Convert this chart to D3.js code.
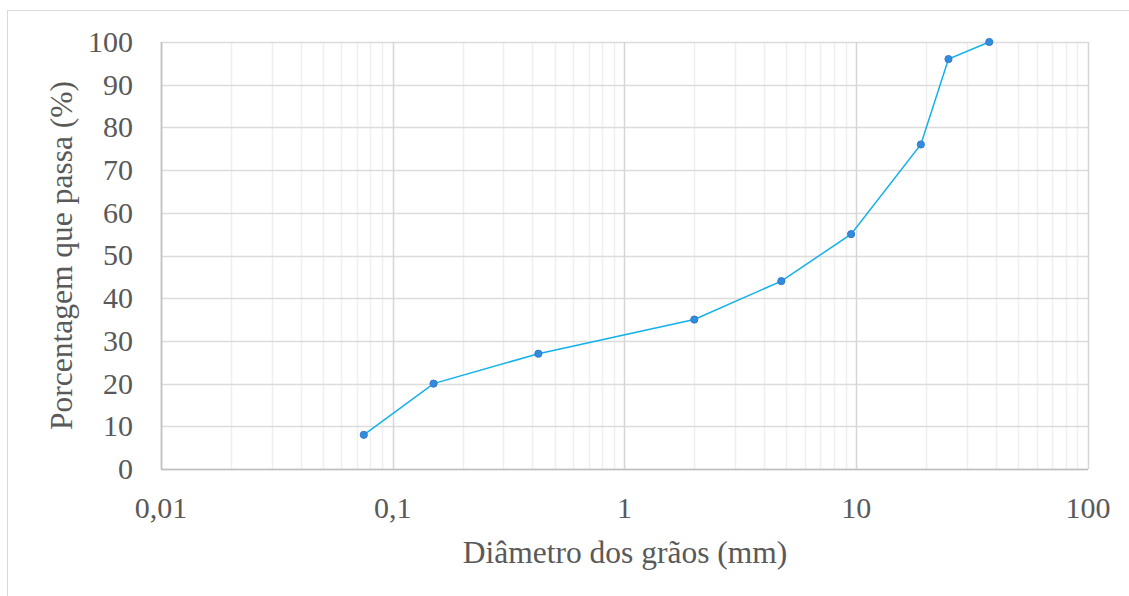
<!DOCTYPE html>
<html>
<head>
<meta charset="utf-8">
<script src="https://d3js.org/d3.v7.min.js"></script>
<style>
  body { margin: 0; background: #fff; }
</style>
</head>
<body>
<script>
// sieve data
var diametros = [0.075, 0.15, 0.425, 2, 4.75, 9.5, 19, 25, 37.5];
var passante = [8, 20, 27, 35, 44, 55, 76, 96, 100];
var xTicks = [0.01, 0.1, 1, 10, 100];
var xTickLabels = ["0,01", "0,1", "1", "10", "100"];
var yTicks = [0, 10, 20, 30, 40, 50, 60, 70, 80, 90, 100];

var width = 1129, height = 596;
var margin = {top: 42, right: 41, bottom: 127, left: 161};
var serif = "'Liberation Serif'";

var svg = d3.select("body").append("svg")
    .attr("width", width)
    .attr("height", height);

// chart frame
svg.append("rect")
    .attr("x", 7.5).attr("y", 10.5)
    .attr("width", width + 20).attr("height", height + 20)
    .attr("fill", "none").attr("stroke", "#d9d9d9").attr("stroke-width", 1);

var x = d3.scaleLog()
    .domain([0.01, 100])
    .range([margin.left, width - margin.right]);
var y = d3.scaleLinear()
    .domain([0, 100])
    .range([height - margin.bottom, margin.top]);

var g = svg.append("g");

// minor vertical grid
var minor = [];
for (var e = -2; e < 2; e++) {
    for (var m = 2; m <= 9; m++) minor.push(m * Math.pow(10, e));
}
g.selectAll(".minor").data(minor).enter().append("line")
    .attr("x1", d => Math.round(x(d)) + 0.5).attr("x2", d => Math.round(x(d)) + 0.5)
    .attr("y1", y(0)).attr("y2", y(100))
    .attr("stroke", "#efefef").attr("stroke-width", 1.5);

// horizontal grid
g.selectAll(".hgrid").data(yTicks).enter().append("line")
    .attr("x1", x(0.01)).attr("x2", x(100))
    .attr("y1", d => Math.round(y(d)) + 0.5).attr("y2", d => Math.round(y(d)) + 0.5)
    .attr("stroke", "#dcdcdc").attr("stroke-width", 1.5);

// major vertical grid
g.selectAll(".major").data(xTicks).enter().append("line")
    .attr("x1", d => Math.round(x(d)) + 0.5).attr("x2", d => Math.round(x(d)) + 0.5)
    .attr("y1", y(0)).attr("y2", y(100))
    .attr("stroke", "#d6d6d6").attr("stroke-width", 1.5);

// axes lines
g.append("line")
    .attr("x1", x(0.01)).attr("x2", x(100))
    .attr("y1", Math.round(y(0)) + 0.5).attr("y2", Math.round(y(0)) + 0.5)
    .attr("stroke", "#bfbfbf").attr("stroke-width", 1.5);
g.append("line")
    .attr("x1", Math.round(x(0.01)) + 0.5).attr("x2", Math.round(x(0.01)) + 0.5)
    .attr("y1", y(0)).attr("y2", y(100))
    .attr("stroke", "#bfbfbf").attr("stroke-width", 1.5);

// y tick labels
svg.selectAll(".ylab").data(yTicks).enter().append("text")
    .attr("x", 133)
    .attr("y", d => y(d))
    .attr("dy", "0.33em")
    .attr("text-anchor", "end")
    .style("font-family", serif)
    .style("font-size", "30px")
    .attr("fill", "#595959")
    .text(d => d);

// x tick labels
svg.selectAll(".xlab").data(xTicks).enter().append("text")
    .attr("x", d => x(d))
    .attr("y", 518)
    .attr("text-anchor", "middle")
    .style("font-family", serif)
    .style("font-size", "30px")
    .attr("fill", "#595959")
    .text((d, i) => xTickLabels[i]);

// axis titles
svg.append("text")
    .attr("x", 625).attr("y", 563)
    .attr("text-anchor", "middle")
    .style("font-family", serif)
    .style("font-size", "31.5px")
    .attr("fill", "#595959")
    .text("Diâmetro dos grãos (mm)");
svg.append("text")
    .attr("transform", "translate(72," + (y(50)) + ") rotate(-90)")
    .attr("text-anchor", "middle")
    .style("font-family", serif)
    .style("font-size", "31.5px")
    .attr("fill", "#595959")
    .text("Porcentagem que passa (%)");

// data line
var pts = diametros.map((d, i) => [d, passante[i]]);
var line = d3.line()
    .x(d => x(d[0]))
    .y(d => y(d[1]));
svg.append("path")
    .datum(pts)
    .attr("d", line)
    .attr("fill", "none")
    .attr("stroke", "#12b0ec")
    .attr("stroke-width", 1.5);

svg.selectAll(".pt").data(pts).enter().append("circle")
    .attr("cx", d => x(d[0]))
    .attr("cy", d => y(d[1]))
    .attr("r", 3.6)
    .attr("fill", "#2f8ddf")
    .attr("stroke", "#3a78c4")
    .attr("stroke-width", 1);
</script>
</body>
</html>
